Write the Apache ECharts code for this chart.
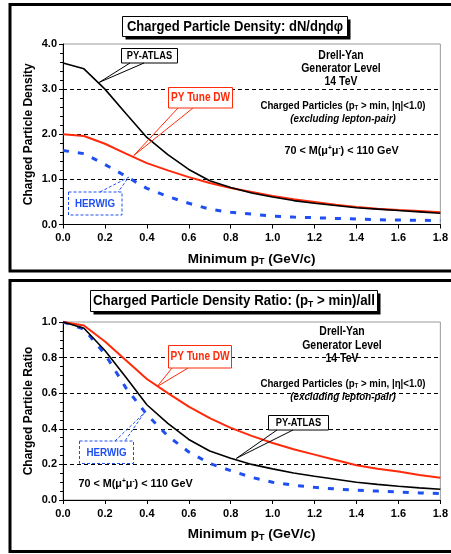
<!DOCTYPE html>
<html>
<head>
<meta charset="utf-8">
<script src="https://cdn.jsdelivr.net/npm/echarts@6/dist/echarts.min.js"></script>
<style>html,body{margin:0;padding:0;background:#fff;}#c{width:451px;height:554px;}</style>
</head>
<body>
<div id="c"></div>
<script>
// ---- data ----
const pT = [0.0,0.1,0.2,0.3,0.4,0.5,0.6,0.7,0.8,0.9,1.0,1.1,1.2,1.3,1.4,1.5,1.6,1.7,1.8];
const atlasDensity  = [3.58,3.45,3.00,2.46,1.93,1.55,1.22,0.97,0.82,0.70,0.61,0.53,0.47,0.42,0.37,0.34,0.31,0.28,0.25];
const dwDensity     = [2.00,1.96,1.79,1.57,1.36,1.20,1.05,0.92,0.81,0.72,0.63,0.56,0.50,0.44,0.39,0.35,0.32,0.30,0.27];
const herwigDensity = [1.64,1.57,1.33,1.07,0.80,0.62,0.47,0.34,0.27,0.23,0.185,0.165,0.15,0.135,0.12,0.105,0.098,0.093,0.088];
const atlasRatio  = [1.0,0.965,0.84,0.69,0.535,0.43,0.34,0.275,0.235,0.20,0.175,0.152,0.133,0.117,0.10,0.088,0.077,0.068,0.06];
const dwRatio     = [1.0,0.98,0.89,0.785,0.68,0.60,0.525,0.46,0.405,0.36,0.32,0.285,0.255,0.225,0.195,0.175,0.16,0.14,0.125];
const herwigRatio = [1.0,0.96,0.82,0.63,0.48,0.36,0.27,0.205,0.165,0.127,0.10,0.083,0.071,0.062,0.055,0.05,0.045,0.04,0.036];
const xTicks = {min:0, max:1.8, interval:0.2};
const densityTicks = {min:0, max:4, interval:1};
const ratioTicks = {min:0, max:1, interval:0.2};
const seriesNames = ['PY-ATLAS','PY Tune DW','HERWIG'];
// annotation tips in data coordinates [x, y]
const tipsTop = {atlas:[0.173,3.15], dw:[0.338,1.53], herwig:[0.314,1.05]};
const tipsBot = {atlas:[0.827,0.234], dw:[0.449,0.637], herwig:[0.386,0.487]};

const FF = '"Liberation Sans", Arial, sans-serif';
const BLACK = '#000000', RED = '#ff2a0a', BLUE = '#1f4ff0';

const zip = (xs, ys) => xs.map((x,i)=>[x, ys[i]]);

function xAxisDef(gi){
  return {
    type:'value', gridIndex:gi, min:xTicks.min, max:xTicks.max, interval:xTicks.interval,
    axisLine:{show:true, onZero:false, lineStyle:{color:'#000', width:1}},
    axisTick:{show:true, inside:false, length:4, lineStyle:{color:'#000'}},
    axisLabel:{margin:8, formatter:v=>v.toFixed(1), color:'#000', fontWeight:'bold', fontSize:11, fontFamily:FF},
    splitLine:{show:false},
    name:'Minimum p{sub|T} (GeV/c)', nameLocation:'middle', nameGap:27, nameMoveOverlap:false,
    nameTextStyle:{color:'#000', fontWeight:'bold', fontSize:13.5, fontFamily:FF,
      rich:{sub:{fontSize:9, fontWeight:'bold', fontFamily:FF, color:'#000', padding:[6,0,0,0]}}}
  };
}
function yAxisDef(gi, t, minorSplit, name){
  return {
    type:'value', gridIndex:gi, min:t.min, max:t.max, interval:t.interval,
    axisLine:{show:true, lineStyle:{color:'#000', width:1}},
    axisTick:{show:true, inside:false, length:4, lineStyle:{color:'#000'}},
    minorTick:{show:true, splitNumber:minorSplit, length:3, lineStyle:{color:'#000'}},
    axisLabel:{margin:6, formatter:v=>v.toFixed(1), color:'#000', fontWeight:'bold', fontSize:11, fontFamily:FF},
    splitLine:{show:true, showMinLine:false, showMaxLine:false, lineStyle:{color:'#000', type:[4,3], width:1}},
    name:name, nameLocation:'middle', nameGap:28, nameRotate:90, nameMoveOverlap:false,
    nameTextStyle:{color:'#000', fontWeight:'bold', fontSize:12, fontFamily:FF}
  };
}
function lineSeries(name, gi, ys, color, width, dashed){
  return {
    name:name, type:'line', xAxisIndex:gi, yAxisIndex:gi, data:zip(pT, ys),
    showSymbol:false, symbol:'none', smooth:false, z: dashed?3:4,
    lineStyle:{color:color, width:width, type: dashed?[6,9]:'solid', cap:'butt'},
    emphasis:{disabled:true}
  };
}

const chart = echarts.init(document.getElementById('c'), null, {renderer:'canvas'});
const baseOption = {
  animation:false,
  backgroundColor:'#ffffff',
  grid:[
    {left:63, top:44, width:382, height:180.5, show:true, borderColor:'#9a9a9a', borderWidth:1, containLabel:false},
    {left:63, top:322, width:381, height:178, show:true, borderColor:'#9a9a9a', borderWidth:1, containLabel:false}
  ],
  xAxis:[xAxisDef(0), xAxisDef(1)],
  yAxis:[yAxisDef(0, densityTicks, 5, 'Charged Particle Density'), yAxisDef(1, ratioTicks, 4, 'Charged Particle Ratio')],
  series:[
    lineSeries(seriesNames[2], 0, herwigDensity, BLUE, 3, true),
    lineSeries(seriesNames[1], 0, dwDensity, RED, 2, false),
    lineSeries(seriesNames[0], 0, atlasDensity, BLACK, 1.6, false),
    lineSeries(seriesNames[2], 1, herwigRatio, BLUE, 3, true),
    lineSeries(seriesNames[1], 1, dwRatio, RED, 2, false),
    lineSeries(seriesNames[0], 1, atlasRatio, BLACK, 1.6, false)
  ]
};
chart.setOption(baseOption);

function txt(x, y, text, opts){
  opts = opts || {};
  const size = opts.size || 12;
  const weight = opts.weight || 'bold';
  const style = opts.italic ? 'italic ' : '';
  const font = style + weight + ' ' + size + 'px ' + FF;
  const subFont = style + weight + ' ' + Math.round(size*0.65) + 'px ' + FF;
  return {
    type:'text', x:x, y:y, scaleX: opts.sx || 1, z:100,
    style:{
      text:text, font:font, fill: opts.color || '#000',
      align: opts.align || 'center', textAlign: opts.align || 'center',
      verticalAlign:'middle', textVerticalAlign:'middle',
      rich:{
        sub:{font:subFont, fill: opts.color || '#000', padding:[Math.round(size*0.45),0,0,0]},
        sup:{font:subFont, fill: opts.color || '#000', padding:[0,0,Math.round(size*0.45),0]}
      }
    }
  };
}
function box(x, y, w, h, color, dashed){
  return {type:'rect', z:90, shape:{x:x, y:y, width:w, height:h},
    style:{fill:'#fff', stroke:color, lineWidth:1, lineDash: dashed?[3,2]:null}};
}
function pointer(b1, tip, b2, color, dashed){
  return {type:'polyline', z:95, shape:{points:[b1, tip, b2]},
    style:{fill:null, stroke:color, lineWidth:1, lineDash: dashed?[3,2]:null}};
}
function titleBox(x, y, w, h){
  return [
    {type:'rect', z:80, shape:{x:x+3, y:y+3, width:w, height:h}, style:{fill:'#000'}},
    {type:'rect', z:81, shape:{x:x, y:y, width:w, height:h}, style:{fill:'#fff', stroke:'#000', lineWidth:1}}
  ];
}

const px = (gi, p) => chart.convertToPixel({gridIndex:gi}, p);

const els = [];
// panel frames
els.push({type:'rect', z:70, shape:{x:10, y:4.5, width:470, height:266.5}, style:{fill:null, stroke:'#000', lineWidth:3}});
els.push({type:'rect', z:70, shape:{x:10, y:280.5, width:470, height:271}, style:{fill:null, stroke:'#000', lineWidth:3}});

// ---- top panel ----
els.push(...titleBox(122.5, 16.5, 225, 20));
els.push(txt(235, 27, 'Charged Particle Density: dN/d\u03b7d\u03c6', {size:14, sx:0.93}));
els.push(txt(341, 56, 'Drell-Yan', {size:12, sx:0.87}));
els.push(txt(341, 69, 'Generator Level', {size:12, sx:0.87}));
els.push(txt(341, 81.5, '14 TeV', {size:12, sx:0.87}));
els.push(txt(343, 106, 'Charged Particles (p{sub|T} > min, |\u03b7|<1.0)', {size:11, sx:0.88}));
els.push(txt(343, 119, '(excluding lepton-pair)', {size:11, sx:0.89, italic:true}));
els.push(txt(341.5, 151, '70 < M(\u03bc{sup|+}\u03bc{sup|-}) < 110 GeV', {size:11.5, sx:0.94}));

const tA = px(0, tipsTop.atlas), tD = px(0, tipsTop.dw), tH = px(0, tipsTop.herwig);
els.push(pointer([130,63],[tA[0],tA[1]],[144,63], '#000', false));
els.push(box(121.5, 48.5, 56, 14.5, '#000', false));
els.push(txt(149.5, 56, 'PY-ATLAS', {size:10, sx:0.93}));
els.push(pointer([178,108],[tD[0],tD[1]],[193,108], RED, false));
els.push(box(168.5, 87.5, 64, 20.5, RED, false));
els.push(txt(200.5, 98, 'PY Tune DW', {size:12, sx:0.84, color:RED}));
els.push(pointer([100,192],[tH[0],tH[1]],[118,192], BLUE, true));
els.push(box(68.5, 192, 53.5, 23, BLUE, true));
els.push(txt(95, 204, 'HERWIG', {size:11, sx:0.89, color:BLUE}));

// ---- bottom panel ----
els.push(...titleBox(90.5, 290.5, 287, 21));
els.push(txt(234, 301.5, 'Charged Particle Density Ratio: (p{sub|T} > min)/all', {size:14, sx:0.95}));
els.push(txt(342, 332, 'Drell-Yan', {size:12, sx:0.87}));
els.push(txt(342, 346, 'Generator Level', {size:12, sx:0.87}));
els.push(txt(342, 359, '14 TeV', {size:12, sx:0.87}));
els.push(txt(343, 383.5, 'Charged Particles (p{sub|T} > min, |\u03b7|<1.0)', {size:11, sx:0.88}));
els.push(txt(343, 397, '(excluding lepton-pair)', {size:11, sx:0.89, italic:true}));
els.push(txt(135.5, 483.5, '70 < M(\u03bc{sup|+}\u03bc{sup|-}) < 110 GeV', {size:11.5, sx:0.94}));

const bA = px(1, tipsBot.atlas), bD = px(1, tipsBot.dw), bH = px(1, tipsBot.herwig);
els.push(pointer([172,368],[bD[0],bD[1]],[188,368], RED, false));
els.push(box(168.5, 345.5, 63, 22.5, RED, false));
els.push(txt(200, 357, 'PY Tune DW', {size:12, sx:0.84, color:RED}));
els.push(pointer([277,430],[bA[0],bA[1]],[293,430], '#000', false));
els.push(box(268.5, 415.5, 60, 14.5, '#000', false));
els.push(txt(298.5, 423, 'PY-ATLAS', {size:10, sx:0.93}));
els.push(pointer([115,441],[bH[0],bH[1]],[125,441], BLUE, true));
els.push(box(79.5, 441, 54, 22.5, BLUE, true));
els.push(txt(106.5, 452.5, 'HERWIG', {size:11, sx:0.89, color:BLUE}));

chart.setOption({graphic:{elements:els}});
</script>
</body>
</html>
